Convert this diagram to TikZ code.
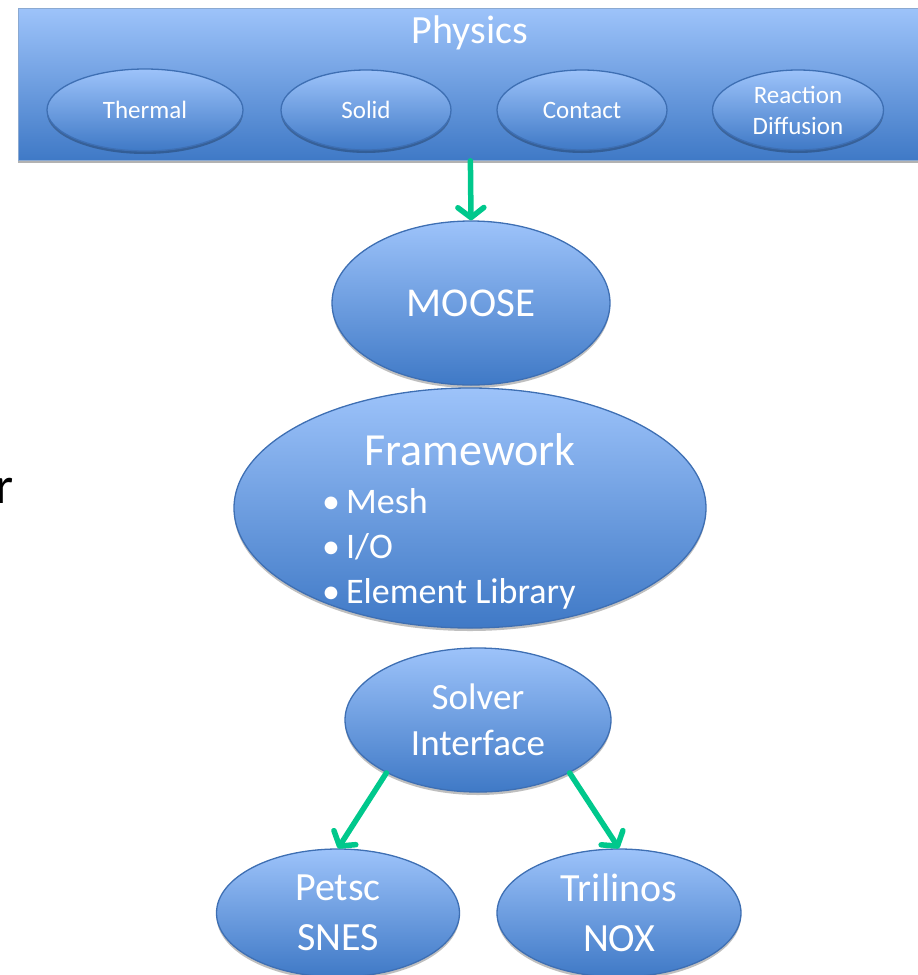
\documentclass[tikz,border=0pt]{standalone}
\usepackage{fontspec}
\setmainfont{Carlito}
\usetikzlibrary{shapes.geometric,arrows.meta,shadows}
\definecolor{topblue}{HTML}{9DC3FA}
\definecolor{botblue}{HTML}{3F79C6}
\definecolor{edgeblue}{HTML}{3E6FB3}
\definecolor{arrowgreen}{HTML}{00C88C}
\begin{document}
\begin{tikzpicture}[x=1pt,y=-1pt,
  blob/.style={ellipse, draw=edgeblue, line width=1.3pt, top color=topblue, bottom color=botblue,
    inner sep=0pt, text=white, align=center,
    drop shadow={shadow xshift=0pt, shadow yshift=-3pt, opacity=0.25, fill=black}},
  panel/.style={rectangle, draw=edgeblue!60, line width=0.8pt, top color=topblue, bottom color=botblue,
    inner sep=0pt, drop shadow={shadow xshift=0pt, shadow yshift=-3pt, opacity=0.3, fill=black}},
  wtext/.style={text=white, inner sep=0pt},
  link/.style={draw=arrowgreen, line width=5.5pt, line cap=round,
    -{Straight Barb[length=10pt,width=26pt,line cap=round,round]}}]
\useasboundingbox (0,0) rectangle (918,975);

% fragment of slide text
\node[anchor=base west, inner sep=0pt, font=\fontsize{52}{60}\selectfont] (frag) at (-5,503) {r};

% Physics panel
\node[panel, minimum width=904pt, minimum height=152pt, anchor=north west] (physics) at (18,8) {};
\node[wtext, anchor=base, font=\fontsize{40}{48}\selectfont] (phystitle) at (470,43) {Physics};
\node[blob, minimum width=196pt, minimum height=82pt, font=\fontsize{25}{31}\selectfont] (thermal) at (145,110) {Thermal};
\node[blob, minimum width=170pt, minimum height=80pt, font=\fontsize{25}{31}\selectfont] (solid) at (366,110) {Solid};
\node[blob, minimum width=170pt, minimum height=80pt, font=\fontsize{25}{31}\selectfont] (contact) at (582,110) {Contact};
\node[blob, minimum width=171pt, minimum height=80pt, font=\fontsize{25}{31}\selectfont] (reaction) at (798,110) {Reaction\\Diffusion};

% MOOSE
\node[blob, minimum width=278pt, minimum height=164pt, font=\fontsize{41}{48}\selectfont] (moose) at (471,303) {MOOSE};

% Framework
\node[blob, minimum width=472pt, minimum height=240pt] (framework) at (470,508) {};
\node[wtext, anchor=base, font=\fontsize{46}{52}\selectfont] (fwtitle) at (470,465) {Framework};
\node[wtext, anchor=base west, font=\fontsize{36}{44}\selectfont] (fwmesh) at (322,513) {\textbullet\,Mesh};
\node[wtext, anchor=base west, font=\fontsize{36}{44}\selectfont] (fwio) at (322,558) {\textbullet\,I/O};
\node[wtext, anchor=base west, font=\fontsize{36}{44}\selectfont] (fwlib) at (322,603) {\textbullet\,Element Library};

% Solver interface
\node[blob, minimum width=266pt, minimum height=144pt, font=\fontsize{37}{46}\selectfont] (solver) at (478,720) {Solver\\Interface};

% Backends
\node[blob, minimum width=243pt, minimum height=128pt, font=\fontsize{40}{50}\selectfont] (petsc) at (338,913) {Petsc\\SNES};
\node[blob, minimum width=244pt, minimum height=128pt, font=\fontsize{40}{50}\selectfont] (trilinos) at (619,913) {Trilinos\\NOX};

% connectors
\draw[link] (physics.south) -- (moose.north);
\draw[link] (solver.210) -- (petsc.north);
\draw[link] (solver.330) -- (trilinos.north);
\end{tikzpicture}
\end{document}
